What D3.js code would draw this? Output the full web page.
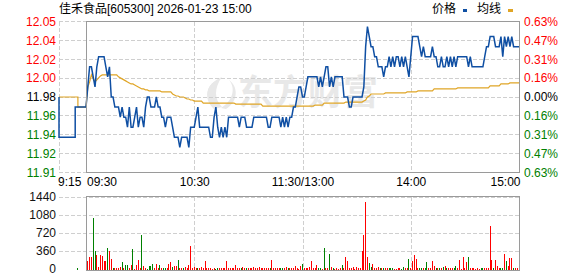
<!DOCTYPE html>
<meta charset="utf-8">
<style>
body { margin: 0; background: #fff; }
svg text { font-family: "Liberation Sans", Arial, "Noto Sans CJK SC", sans-serif; font-size: 12px; }
</style>
<svg id="chart" width="578" height="276"></svg>
<script src="https://cdn.jsdelivr.net/npm/d3@7"></script>
<script>

// ---- data ----
var title = "佳禾食品[605300] 2026-01-23 15:00";
var legendNames = ["价格", "均线"];
var prevClose = 11.98;
var priceRange = [11.905, 12.055];
var priceLabels = ["12.05", "12.04", "12.02", "12.00", "11.98", "11.96", "11.94", "11.92", "11.91"];
var pctLabels = ["0.63%", "0.47%", "0.31%", "0.16%", "0.00%", "0.16%", "0.31%", "0.47%", "0.63%"];
var volTicks = [0, 360, 720, 1080, 1440];
var timeLabels = ["9:15", "09:30", "10:30", "11:30/13:00", "14:00", "15:00"];
var timeTickMin = [0, 0, 60, 120, 180, 240];   // first one on the call-auction scale

// call auction 9:15 - 9:25
var prePrice = [11.98, 11.94, 11.94, 11.94, 11.94, 11.94, 11.94, 11.97, 11.97, 11.97, 11.97];
var preAvg   = [11.98, 11.98, 11.98, 11.98, 11.98, 11.98, 11.98, 11.98, 11.97, 11.97, 11.97];
var preVol   = [0, 0, 0, 0, 0, 0, 0, 20, 0, 0, 0];

// one value per minute, 09:30 .. 11:30 | 13:00 .. 15:00
var price = [
  11.97, 11.99, 12.01, 12.01, 12.00, 11.99, 12.01, 12.02, 12.02, 12.02,
  12.02, 12.01, 12.00, 12.01, 11.98, 11.98, 11.97, 11.97, 11.97, 11.96,
  11.97, 11.96, 11.96, 11.95, 11.97, 11.95, 11.95, 11.96, 11.97, 11.95,
  11.96, 11.96, 11.95, 11.97, 11.98, 11.98, 11.97, 11.97, 11.97, 11.98,
  11.97, 11.97, 11.96, 11.96, 11.95, 11.96, 11.96, 11.96, 11.95, 11.94,
  11.94, 11.94, 11.93, 11.94, 11.94, 11.94, 11.94, 11.93, 11.95, 11.95,
  11.95, 11.96, 11.97, 11.95, 11.95, 11.95, 11.95, 11.95, 11.95, 11.94,
  11.94, 11.96, 11.97, 11.95, 11.94, 11.95, 11.94, 11.95, 11.94, 11.96,
  11.96, 11.96, 11.96, 11.96, 11.96, 11.95, 11.96, 11.96, 11.96, 11.95,
  11.95, 11.95, 11.95, 11.96, 11.96, 11.96, 11.96, 11.96, 11.96, 11.96,
  11.96, 11.95, 11.95, 11.96, 11.96, 11.96, 11.96, 11.96, 11.95, 11.96,
  11.95, 11.96, 11.95, 11.96, 11.96, 11.97, 11.97, 11.98, 11.99, 11.99,
  11.98, 11.98, 11.99, 12.00, 12.00, 12.00, 12.00, 12.00, 12.00, 11.99,
  12.00, 11.99, 12.00, 12.01, 12.01, 11.99, 12.00, 11.99, 12.00, 12.00,
  12.00, 12.00, 12.00, 11.98, 11.98, 11.98, 11.97, 11.97, 11.98, 11.98,
  11.98, 11.98, 11.98, 11.98, 11.99, 12.03, 12.05, 12.04, 12.03, 12.03,
  12.02, 12.02, 12.01, 12.01, 12.01, 12.00, 12.01, 12.01, 12.02, 12.01,
  12.02, 12.01, 12.02, 12.02, 12.01, 12.02, 12.01, 12.02, 12.01, 12.00,
  12.02, 12.04, 12.04, 12.04, 12.04, 12.03, 12.02, 12.03, 12.02, 12.02,
  12.02, 12.02, 12.03, 12.02, 12.02, 12.01, 12.01, 12.02, 12.01, 12.01,
  12.02, 12.01, 12.02, 12.01, 12.02, 12.01, 12.02, 12.02, 12.02, 12.02,
  12.02, 12.02, 12.01, 12.02, 12.01, 12.01, 12.01, 12.01, 12.01, 12.01,
  12.01, 12.02, 12.03, 12.03, 12.04, 12.04, 12.04, 12.03, 12.03, 12.03,
  12.04, 12.02, 12.04, 12.03, 12.04, 12.03, 12.04, 12.03, 12.03, 12.03,
  12.03
];

var avgPrice = [
  11.970, 11.990, 11.995, 12.002, 11.998, 11.995, 11.997, 11.999, 12.001, 12.002,
  12.002, 12.002, 12.002, 12.002, 12.002, 12.002, 12.002, 12.002, 12.000, 11.999,
  11.998, 11.997, 11.996, 11.995, 11.994, 11.993, 11.993, 11.992, 11.991, 11.990,
  11.989, 11.988, 11.988, 11.987, 11.987, 11.986, 11.986, 11.986, 11.986, 11.986,
  11.986, 11.986, 11.985, 11.985, 11.985, 11.985, 11.985, 11.985, 11.983, 11.982,
  11.981, 11.981, 11.980, 11.980, 11.980, 11.979, 11.978, 11.978, 11.977, 11.977,
  11.976, 11.976, 11.976, 11.976, 11.976, 11.974, 11.974, 11.974, 11.974, 11.974,
  11.974, 11.974, 11.974, 11.974, 11.974, 11.974, 11.974, 11.974, 11.974, 11.974,
  11.974, 11.974, 11.974, 11.973, 11.973, 11.973, 11.973, 11.973, 11.973, 11.973,
  11.973, 11.973, 11.973, 11.973, 11.973, 11.973, 11.973, 11.973, 11.971, 11.971,
  11.971, 11.971, 11.971, 11.971, 11.971, 11.971, 11.971, 11.971, 11.971, 11.971,
  11.971, 11.971, 11.971, 11.971, 11.971, 11.971, 11.971, 11.971, 11.971, 11.971,
  11.971, 11.971, 11.971, 11.971, 11.971, 11.971, 11.971, 11.972, 11.972, 11.972,
  11.972, 11.972, 11.974, 11.974, 11.974, 11.974, 11.974, 11.974, 11.974, 11.974,
  11.974, 11.974, 11.974, 11.974, 11.975, 11.975, 11.975, 11.975, 11.975, 11.975,
  11.975, 11.975, 11.975, 11.975, 11.976, 11.977, 11.980, 11.981, 11.983, 11.983,
  11.983, 11.983, 11.983, 11.983, 11.983, 11.983, 11.984, 11.984, 11.984, 11.984,
  11.984, 11.984, 11.984, 11.984, 11.984, 11.984, 11.984, 11.984, 11.985, 11.985,
  11.985, 11.985, 11.985, 11.985, 11.986, 11.986, 11.986, 11.986, 11.986, 11.986,
  11.986, 11.986, 11.986, 11.988, 11.988, 11.988, 11.988, 11.988, 11.988, 11.988,
  11.988, 11.988, 11.988, 11.988, 11.988, 11.988, 11.989, 11.989, 11.989, 11.989,
  11.989, 11.989, 11.989, 11.989, 11.989, 11.989, 11.989, 11.989, 11.989, 11.989,
  11.989, 11.989, 11.989, 11.989, 11.991, 11.991, 11.991, 11.991, 11.991, 11.991,
  11.993, 11.993, 11.993, 11.993, 11.993, 11.994, 11.994, 11.994, 11.994, 11.994,
  11.994
];

// volume bars for minutes 1..240 (hands)
var volume = [
  167, 247, 247, 1007, 367, 287, 47, 287, 267, 167,
  167, 427, 367, 207, 20, 10, 10, 10, 47, 147,
  10, 87, 87, 27, 87, 407, 7, 87, 187, 10,
  667, 67, 10, 7, 67, 67, 107, 10, 107, 27,
  87, 27, 27, 10, 10, 107, 147, 47, 67, 67,
  187, 10, 10, 10, 47, 10, 87, 447, 27, 47,
  27, 10, 10, 47, 10, 167, 10, 10, 10, 7,
  10, 7, 10, 10, 10, 10, 10, 167, 10, 10,
  10, 10, 87, 10, 10, 10, 47, 10, 10, 10,
  10, 10, 47, 10, 10, 47, 10, 10, 10, 10,
  10, 10, 187, 10, 27, 10, 10, 10, 10, 10,
  47, 27, 10, 10, 10, 67, 10, 7, 67, 107,
  10, 10, 27, 47, 167, 10, 10, 87, 10, 10,
  7, 427, 10, 10, 307, 47, 10, 7, 10, 7,
  10, 87, 10, 247, 167, 10, 10, 47, 7, 47,
  10, 10, 367, 667, 1327, 247, 127, 47, 107, 10,
  10, 47, 10, 10, 10, 10, 10, 10, 10, 10,
  7, 7, 10, 10, 7, 47, 10, 10, 207, 10,
  167, 287, 207, 10, 10, 10, 10, 10, 147, 10,
  10, 167, 67, 10, 10, 10, 10, 47, 67, 10,
  10, 10, 10, 10, 67, 10, 187, 7, 247, 10,
  147, 247, 10, 10, 10, 7, 27, 7, 10, 10,
  10, 10, 10, 847, 187, 10, 187, 67, 27, 27,
  27, 300, 167, 67, 227, 227, 10, 10, 10, 387
];
// r = up bar, g = down bar
var volSide = (
  "rrrggrrrrr" + "rgrrgrrrrg" + "rggrrgrrrr" + "grrggggrrr" + "grggrrrgrr" +
  "grrgrrrrrr" + "rgrrrrrrrr" + "rggrrrrrrr" + "rrrrrgrrgr" + "rrrrrrrrrr" +
  "rgrrrrrggr" + "rgrrrrrrrg" + "rrrrrrrrgg" + "rgrrgrgrrr" + "rgrrrrrrrr" +
  "rrrrrrggrr" + "rrgrgrrggg" + "rrrrggrrgr" + "rrrrggrggr" + "rrrgrgrgrg" +
  "rrrggrrrrr" + "rgrrrrrrgg" + "rrrrrgrrrg" + "grgrrrgrrr"
).split("");

// ---- drawing ----
var svg = d3.select("#chart");
var frameColor = "#9a9a9a", gridColor = "#cfcfcf";
var upColor = "#ff0000", downColor = "#008000";
var lineColor = "#0f4fa3", avgColor = "#e0a526";

var x = d3.scaleLinear().domain([0, 240]).range([86, 519]);
var xPre = d3.scaleLinear().domain([0, 10]).range([59, 86]);
var y = d3.scaleLinear().domain(priceRange).range([172.5, 21.5]);
var yVol = d3.scaleLinear().domain([0, 1440]).range([269, 196.5]);

var priceTicks = priceLabels.map(function(d, i) {
  return priceRange[1] - i * (priceRange[1] - priceRange[0]) / (priceLabels.length - 1);
});
function tickColor(i) { return i < 4 ? upColor : (i == 4 ? "#000" : downColor); }

// title + legend
svg.append("text").attr("x", 59).attr("y", 13).text(title);
svg.append("text").attr("x", 432).attr("y", 13).text(legendNames[0]);
svg.append("rect").attr("x", 463).attr("y", 9).attr("width", 4).attr("height", 3).attr("fill", lineColor);
svg.append("text").attr("x", 477).attr("y", 13).text(legendNames[1]);
svg.append("rect").attr("x", 508).attr("y", 9).attr("width", 5).attr("height", 3).attr("fill", avgColor);

// watermark
var wm = svg.append("g").attr("fill", "#e8e8e8");
wm.append("path").attr("d", "M214,109 C203,99 205,84 222,77 C214,88 214,99 222,107 Z");
wm.append("path").attr("d", "M221,108 C233,101 236,88 229,80 C238,86 239,101 226,109 Z");
wm.append("path").attr("d", "M208,96 C206,88 212,82 218,80 C212,86 211,92 212,100 Z");
wm.append("text").attr("x", 238).attr("y", 105)
  .style("font-family", "'Noto Sans CJK SC', sans-serif").style("font-size", "35px").style("font-weight", "bold")
  .text("东方财富");

// price panel grid
var grid = svg.append("g").attr("stroke", gridColor).attr("stroke-dasharray", "4,2").attr("shape-rendering", "crispEdges");
grid.selectAll(".hp").data(priceTicks).enter().append("line")
  .attr("x1", 59).attr("x2", 519).attr("y1", function(d) { return y(d); }).attr("y2", function(d) { return y(d); });
grid.append("line").attr("x1", 59.5).attr("x2", 59.5).attr("y1", y(priceRange[1])).attr("y2", y(priceRange[0]));
grid.selectAll(".vp").data([60, 120, 180]).enter().append("line")
  .attr("x1", function(d) { return Math.round(x(d)) + 0.5; }).attr("x2", function(d) { return Math.round(x(d)) + 0.5; })
  .attr("y1", y(priceRange[1])).attr("y2", y(priceRange[0]));
// volume panel grid
grid.selectAll(".hv").data(volTicks.slice(1)).enter().append("line")
  .attr("x1", 59).attr("x2", 519)
  .attr("y1", function(d) { return Math.round(yVol(d)) + 0.5; }).attr("y2", function(d) { return Math.round(yVol(d)) + 0.5; });
grid.selectAll(".vv").data([60, 120, 180]).enter().append("line")
  .attr("x1", function(d) { return Math.round(x(d)) + 0.5; }).attr("x2", function(d) { return Math.round(x(d)) + 0.5; })
  .attr("y1", 196.5).attr("y2", 270.5);

// volume bars
var bars = svg.append("g").attr("shape-rendering", "crispEdges");
bars.selectAll(".b").data(volume).enter().append("rect")
  .attr("x", function(d, i) { return Math.floor(x(i + 1)); })
  .attr("width", 1)
  .attr("y", function(d) { return yVol(d); })
  .attr("height", function(d) { return 270 - yVol(d); })
  .attr("fill", function(d, i) { return volSide[i] == "g" ? downColor : upColor; });
bars.selectAll(".pb").data(preVol).enter().filter(function(d) { return d > 0; }).append("rect")
  .attr("x", function(d, i) { return Math.floor(xPre(preVol.indexOf(d))); })
  .attr("width", 1)
  .attr("y", function(d) { return yVol(d); })
  .attr("height", function(d) { return 270 - yVol(d); })
  .attr("fill", downColor);

// lines
var preLine = d3.line().x(function(d, i) { return xPre(i); }).y(function(d) { return y(d); }).curve(d3.curveStepBefore);
var mainLine = d3.line().x(function(d, i) { return x(i); }).y(function(d) { return y(d); });
svg.append("path").datum(preAvg).attr("d", preLine).attr("fill", "none").attr("stroke", avgColor).attr("stroke-width", 1.2);
svg.append("path").datum(avgPrice).attr("d", mainLine).attr("fill", "none").attr("stroke", avgColor).attr("stroke-width", 1.2);
svg.append("path").datum(prePrice).attr("d", preLine).attr("fill", "none").attr("stroke", lineColor).attr("stroke-width", 1.5);
svg.append("path").datum(price).attr("d", mainLine).attr("fill", "none").attr("stroke", lineColor).attr("stroke-width", 1.5);

// frames
svg.append("rect").attr("x", 86.5).attr("y", 21.5).attr("width", 433).attr("height", 151)
  .attr("fill", "none").attr("stroke", frameColor).attr("shape-rendering", "crispEdges");
svg.append("rect").attr("x", 86.5).attr("y", 196.5).attr("width", 433).attr("height", 74)
  .attr("fill", "none").attr("stroke", frameColor).attr("shape-rendering", "crispEdges");

// price axis (left) and percent axis (right)
var leftAxis = svg.append("g").attr("transform", "translate(56,0)")
  .call(d3.axisLeft(y).tickValues(priceTicks).tickSize(0).tickPadding(0)
    .tickFormat(function(d, i) { return priceLabels[i]; }));
leftAxis.select(".domain").remove();
leftAxis.selectAll("text").style("font-size", "12px").style("font-family", "'Liberation Sans', Arial, sans-serif")
  .attr("fill", function(d, i) { return tickColor(i); });

var rightAxis = svg.append("g").attr("transform", "translate(524,0)")
  .call(d3.axisRight(y).tickValues(priceTicks).tickSize(0).tickPadding(0)
    .tickFormat(function(d, i) { return pctLabels[i]; }));
rightAxis.select(".domain").remove();
rightAxis.selectAll("text").style("font-size", "12px").style("font-family", "'Liberation Sans', Arial, sans-serif")
  .attr("fill", function(d, i) { return tickColor(i); });

// volume axis
var volAxis = svg.append("g").attr("transform", "translate(56,0)")
  .call(d3.axisLeft(yVol).tickValues(volTicks).tickSize(0).tickPadding(0).tickFormat(d3.format("d")));
volAxis.select(".domain").remove();
volAxis.selectAll("text").style("font-size", "12px").style("font-family", "'Liberation Sans', Arial, sans-serif")
  .attr("fill", "#111");

// time labels
svg.selectAll(".tl").data(timeLabels).enter().append("text")
  .attr("x", function(d, i) {
    if (i == 0) return xPre(timeTickMin[i]) - 1;
    if (i == 1) return x(timeTickMin[i]) + 1;
    if (i == timeLabels.length - 1) return x(timeTickMin[i]) + 1.5;
    return x(timeTickMin[i]) + 0.5;
  })
  .attr("y", 186)
  .attr("text-anchor", function(d, i) { return i < 2 ? "start" : (i == timeLabels.length - 1 ? "end" : "middle"); })
  .text(function(d) { return d; });

</script>
